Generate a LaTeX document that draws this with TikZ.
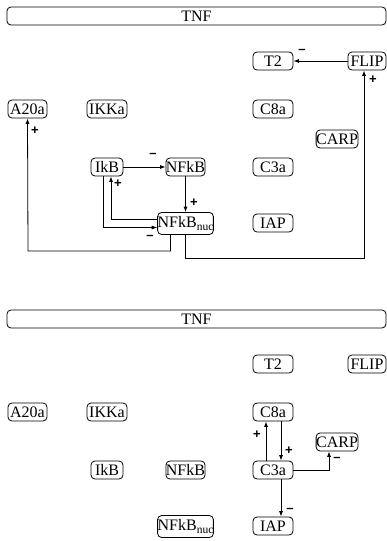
\documentclass[tikz,border=0pt]{standalone}
\usepackage{fontspec}
\setmainfont{Liberation Serif}
\setsansfont{Liberation Sans}
\usetikzlibrary{arrows.meta,calc}
\tikzset{
  box/.style={draw, rounded corners=4pt, line width=0.8pt, inner xsep=0pt, inner ysep=0pt,
    minimum height=18pt, font=\rmfamily\fontsize{16}{18}\selectfont},
  arr/.style={-{Latex[length=5.5pt,width=4pt]}, line width=0.8pt},
  sgn/.style={font=\sffamily\bfseries\fontsize{13}{13}\selectfont, inner sep=0pt},
}
\newcommand{\nuclab}{NFkB\raisebox{-3.5pt}{\fontsize{11.5}{12}\selectfont nuc}}
\begin{document}
\begin{tikzpicture}[x=1pt,y=-1pt]
\useasboundingbox (0,0) rectangle (387,541);
% ---------- top panel ----------
\node[box, minimum width=379pt] (TNF) at (196.5,16) {TNF};
\node[box, minimum width=40pt] (T2) at (273,61) {T2};
\node[box, minimum width=38pt] (FLIP) at (367,61) {FLIP};
\node[box, minimum width=39pt] (A20a) at (27.5,109) {A20a};
\node[box, minimum width=40pt] (IKKa) at (107,109) {IKKa};
\node[box, minimum width=40pt] (C8a) at (273,109) {C8a};
\node[box, minimum width=40pt] (CARP) at (337,139) {CARP};
\node[box, minimum width=32pt] (IkB) at (107,167) {IkB};
\node[box, minimum width=37pt] (NFkB) at (185.5,167) {NFkB};
\node[box, minimum width=40pt] (C3a) at (273,167) {C3a};
\node[box, minimum width=55pt, minimum height=22pt] (NFkBnuc) at (185.5,223.5) {\nuclab};
\node[box, minimum width=40pt] (IAP) at (273,223) {IAP};

\coordinate (b1) at (364,258);
\coordinate (b2) at (28,251);
\draw[arr] (FLIP) -- (T2);
\draw[arr] (NFkBnuc.south) |- (b1) -- ([xshift=-3pt]FLIP.south);
\draw[arr] ([xshift=-15pt]NFkBnuc.south) |- (b2) -- (A20a.south);
\draw[arr] (IkB) -- (NFkB);
\draw[arr] (NFkB) -- (NFkBnuc);
\draw[arr] ([yshift=4pt]NFkBnuc.west) -| ([xshift=4pt]IkB.south);
\draw[arr] ([xshift=-4pt]IkB.south) |- ([yshift=-4pt]NFkBnuc.west);

\node[sgn] (s1) at (302,51) {–};
\node[sgn] (s2) at (373,80) {+};
\node[sgn] (s3) at (35,131) {+};
\node[sgn] (s4) at (153,155) {–};
\node[sgn] (s5) at (194,203) {+};
\node[sgn] (s6) at (118,184) {+};
\node[sgn] (s7) at (150,237) {–};

% ---------- bottom panel ----------
\node[box, minimum width=379pt] (TNF2) at (196.5,319) {TNF};
\node[box, minimum width=40pt] (T22) at (273,364) {T2};
\node[box, minimum width=38pt] (FLIP2) at (367,364) {FLIP};
\node[box, minimum width=39pt] (A20a2) at (27.5,412) {A20a};
\node[box, minimum width=40pt] (IKKa2) at (107,412) {IKKa};
\node[box, minimum width=40pt] (C8a2) at (273,412) {C8a};
\node[box, minimum width=40pt] (CARP2) at (337,442) {CARP};
\node[box, minimum width=32pt] (IkB2) at (107,470) {IkB};
\node[box, minimum width=37pt] (NFkB2) at (185.5,470) {NFkB};
\node[box, minimum width=40pt] (C3a2) at (273,470) {C3a};
\node[box, minimum width=55pt, minimum height=22pt] (NFkBnuc2) at (185.5,526.5) {\nuclab};
\node[box, minimum width=40pt] (IAP2) at (273,526) {IAP};

\draw[arr] ([xshift=-7pt]C3a2.north) -- ([xshift=-7pt]C8a2.south);
\draw[arr] ([xshift=8pt]C8a2.south) -- ([xshift=8pt]C3a2.north);
\draw[arr] (C3a2.east) -| ([xshift=-8pt]CARP2.south);
\draw[arr] ([xshift=8pt]C3a2.south) -- ([xshift=8pt]IAP2.north);

\node[sgn] (t1) at (257,435) {+};
\node[sgn] (t2) at (289,451) {+};
\node[sgn] (t3) at (337,459) {–};
\node[sgn] (t4) at (290,510) {–};
\end{tikzpicture}
\end{document}
